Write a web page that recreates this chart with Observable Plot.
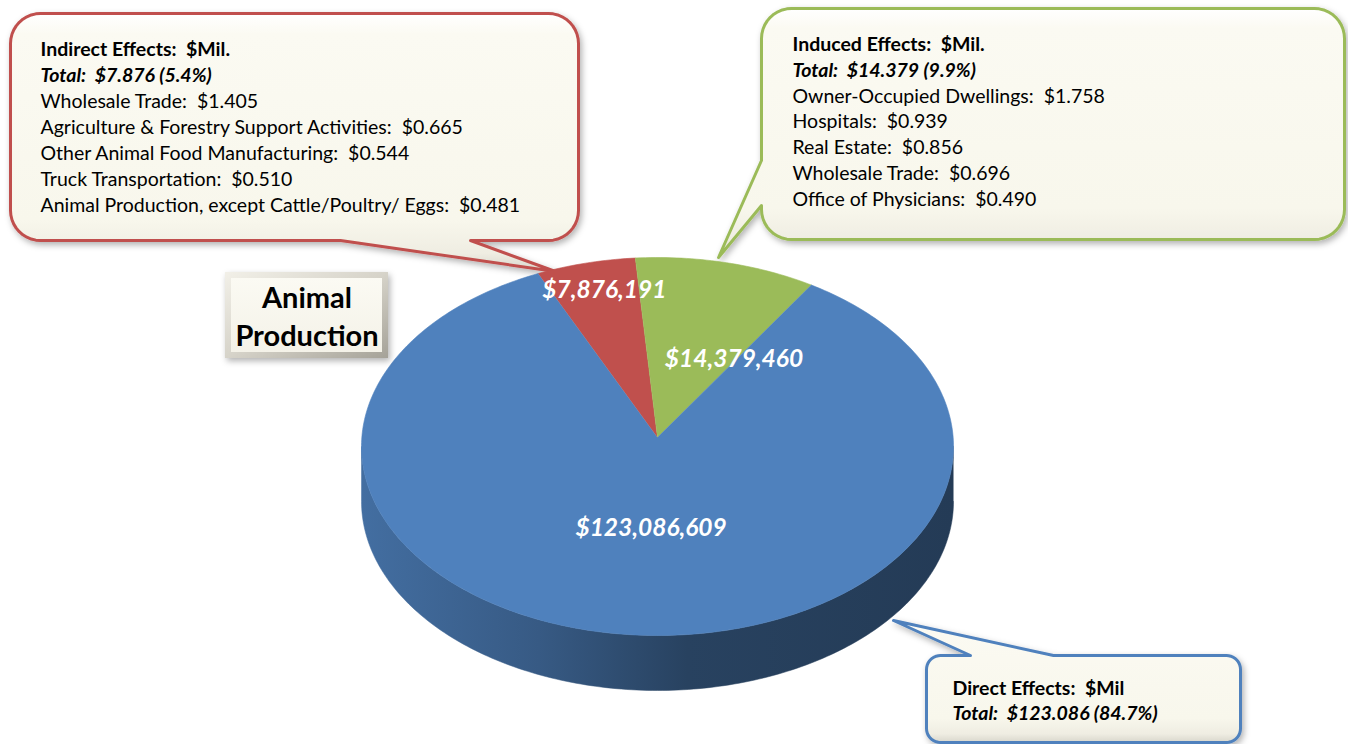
<!DOCTYPE html>
<html>
<head>
<meta charset="utf-8">
<script src="https://cdn.jsdelivr.net/npm/d3@7"></script>
<script src="https://cdn.jsdelivr.net/npm/@observablehq/plot@0.6"></script>
<style>
  html, body { margin: 0; padding: 0; background: #ffffff; }
  #chart { width: 1348px; height: 744px; }
</style>
</head>
<body>
<div id="chart"></div>
<script>
// ---------- DATA ----------
const categories = ["Indirect Effects", "Induced Effects", "Direct Effects"];
const values = [7876191, 14379460, 123086609];
const sliceColors = ["#C0504D", "#9BBB59", "#4F81BD"];
const titleLines = ["Animal", "Production"];

const indirectSectors = [
  "Wholesale Trade",
  "Agriculture & Forestry Support Activities",
  "Other Animal Food Manufacturing",
  "Truck Transportation",
  "Animal Production, except Cattle/Poultry/ Eggs"
];
const indirectValues = [1.405, 0.665, 0.544, 0.510, 0.481];

const inducedSectors = [
  "Owner-Occupied Dwellings",
  "Hospitals",
  "Real Estate",
  "Wholesale Trade",
  "Office of Physicians"
];
const inducedValues = [1.758, 0.939, 0.856, 0.696, 0.490];

const calloutHeaders = ["Indirect Effects:\u00a0 $Mil.", "Induced Effects:\u00a0 $Mil.", "Direct Effects:\u00a0 $Mil"];

// ---------- LAYOUT ----------
const W = 1348, H = 744;
const deg = Math.PI / 180;
const PIE = {cx: 657, cy: 446, rx: 296, ry: 189, depth: 55, apexX: 657, apexY: 437, start: -23.8 * deg};
const labelFactor = [[0.74, 0.85], [1.105, 0.477], [0.33, 0.433]];
const FONT = "Lato, 'Open Sans', sans-serif";
const BODY = 19.5;

const total = d3.sum(values);
const arcs = d3.pie().sort(null).startAngle(PIE.start).endAngle(PIE.start + 2 * Math.PI)(values);
const pt = (a, dy = 0) => [PIE.cx + PIE.rx * Math.sin(a), PIE.cy - PIE.ry * Math.cos(a) + dy];

// wedge polygons (top face)
const wedgeRows = [];
arcs.forEach((a, i) => {
  const n = Math.max(2, Math.ceil((a.endAngle - a.startAngle) / deg));
  wedgeRows.push({cat: categories[i], x: PIE.apexX, y: PIE.apexY});
  for (let k = 0; k <= n; k++) {
    const t = a.startAngle + (a.endAngle - a.startAngle) * k / n;
    const [x, y] = pt(t);
    wedgeRows.push({cat: categories[i], x, y});
  }
});

// visible side (front half: angles 90..270 deg)
const sideSegments = [];
arcs.forEach((a, i) => {
  for (const shift of [0, 2 * Math.PI, -2 * Math.PI]) {
    const lo = Math.max(a.startAngle + shift, 90 * deg);
    const hi = Math.min(a.endAngle + shift, 270 * deg);
    if (hi > lo) {
      const rows = [];
      const n = Math.ceil((hi - lo) / deg);
      for (let k = 0; k <= n; k++) { const t = lo + (hi - lo) * k / n; const [x, y] = pt(t); rows.push({x, y}); }
      for (let k = n; k >= 0; k--) { const t = lo + (hi - lo) * k / n; const [x, y] = pt(t, PIE.depth); rows.push({x, y}); }
      sideSegments.push({i, rows});
    }
  }
});

// slice labels
const sliceLabels = arcs.map((a, i) => {
  const m = (a.startAngle + a.endAngle) / 2;
  return {
    text: "$" + d3.format(",")(values[i]),
    x: PIE.cx + PIE.rx * labelFactor[i][0] * Math.sin(m),
    y: PIE.cy - PIE.ry * labelFactor[i][1] * Math.cos(m)
  };
});

// callout shapes
const callouts = [
  {x0: 10, y0: 13, x1: 578, y1: 240, r: 30, side: "bottom", b0: 340, b1: 470, tip: [555, 271], stroke: "#c0504d"},
  {x0: 761, y0: 8, x1: 1344, y1: 239, r: 30, side: "left", b0: 160, b1: 205, tip: [718, 257], stroke: "#9bbb59"},
  {x0: 926, y0: 655, x1: 1240, y1: 742, r: 14, side: "top", b0: 970, b1: 1053, tip: [893, 620], stroke: "#4f81bd"}
];
function calloutPts(c) {
  const pts = [];
  const arc = (cx, cy, a0, a1) => { for (let i = 0; i <= 10; i++) { const a = a0 + (a1 - a0) * i / 10; pts.push([cx + c.r * Math.cos(a), cy + c.r * Math.sin(a)]); } };
  arc(c.x0 + c.r, c.y0 + c.r, Math.PI, 1.5 * Math.PI);
  if (c.side === "top") pts.push([c.b0, c.y0], c.tip, [c.b1, c.y0]);
  arc(c.x1 - c.r, c.y0 + c.r, 1.5 * Math.PI, 2 * Math.PI);
  arc(c.x1 - c.r, c.y1 - c.r, 0, 0.5 * Math.PI);
  if (c.side === "bottom") pts.push([c.b1, c.y1], c.tip, [c.b0, c.y1]);
  arc(c.x0 + c.r, c.y1 - c.r, 0.5 * Math.PI, Math.PI);
  if (c.side === "left") pts.push([c.x0, c.b1], c.tip, [c.x0, c.b0]);
  pts.push(pts[0]);
  return pts.map(([x, y]) => ({x, y}));
}

// callout text lines
const pct = v => d3.format(".1%")(v / total);
const totalLine = i => `Total:\u00a0 $${(Math.floor(values[i] / 1e3) / 1e3).toFixed(3)} (${pct(values[i])})`;
const textRows = [];
function addBlock(x, y0, lh, header, i, sectors, vals) {
  textRows.push({x, y: y0, text: header, kind: "b"});
  textRows.push({x, y: y0 + lh, text: totalLine(i), kind: "bi"});
  sectors.forEach((s, k) => textRows.push({x, y: y0 + lh * (k + 2), text: `${s}:\u00a0 $${vals[k].toFixed(3)}`, kind: "r"}));
}
addBlock(40, 49, 26, calloutHeaders[0], 0, indirectSectors, indirectValues);
addBlock(792, 44, 25.9, calloutHeaders[1], 1, inducedSectors, inducedValues);
addBlock(952, 688, 25, calloutHeaders[2], 2, [], []);

const titleBox = [{x1: 225, x2: 388, y1: 272, y2: 358}];
const titleInner = [{x1: 231, x2: 382, y1: 278, y2: 352}];
const titleRows = titleLines.map((t, k) => ({text: t, x: 306.5, y: 298 + k * 38}));

// ---------- PLOT ----------
const marks = [];
callouts.forEach(c => {
  marks.push(Plot.line(calloutPts(c), {x: "x", y: "y", fill: "url(#cream)", stroke: c.stroke, strokeWidth: 3, strokeLinejoin: "round", ariaDescription: "callout"}));
});
sideSegments.forEach(s => {
  marks.push(Plot.line(s.rows, {x: "x", y: "y", fill: `url(#side${s.i})`, stroke: `url(#side${s.i})`, strokeWidth: 0.5}));
});
marks.push(Plot.line(wedgeRows, {x: "x", y: "y", z: "cat", fill: "cat", stroke: "cat", strokeWidth: 0.6}));
marks.push(Plot.text(sliceLabels, {x: "x", y: "y", text: "text", fill: "white", fontSize: 24.5, fontWeight: "bold", fontStyle: "italic", fontFamily: FONT}));

marks.push(Plot.rect(titleBox, {x1: "x1", x2: "x2", y1: "y1", y2: "y2", fill: "url(#bevel)", ariaDescription: "titlebox"}));
marks.push(Plot.rect(titleInner, {x1: "x1", x2: "x2", y1: "y1", y2: "y2", fill: "url(#bevelInner)"}));
marks.push(Plot.text(titleRows, {x: "x", y: "y", text: "text", fill: "#000", fontSize: 29, fontWeight: "bold", fontFamily: FONT}));

const styles = {b: {fontWeight: "bold", fontStyle: "normal"}, bi: {fontWeight: "bold", fontStyle: "italic"}, r: {fontWeight: "normal", fontStyle: "normal"}};
for (const k of ["b", "bi", "r"]) {
  marks.push(Plot.text(textRows.filter(d => d.kind === k), {x: "x", y: "y", text: "text", textAnchor: "start", fill: "#000", fontSize: BODY, fontFamily: FONT, ...styles[k]}));
}

const svg = Plot.plot({
  width: W, height: H, margin: 0,
  x: {domain: [0, W], range: [0, W], axis: null},
  y: {domain: [0, H], range: [0, H], axis: null},
  color: {domain: categories, range: sliceColors},
  style: {background: "white", fontFamily: FONT},
  marks
});

// gradients & filters
const defs = d3.select(svg).insert("defs", ":first-child");
const lg = (id, attrs, stops) => {
  const g = defs.append("linearGradient").attr("id", id);
  Object.entries(attrs).forEach(([k, v]) => g.attr(k, v));
  stops.forEach(([o, c]) => g.append("stop").attr("offset", o).attr("stop-color", c));
};
lg("cream", {x1: 0, y1: 0, x2: 0, y2: 1}, [[0, "#ffffff"], [0.08, "#fbfaf2"], [0.8, "#f8f7ec"], [0.93, "#efede2"], [1, "#d8d6cc"]]);
arcs.forEach((a, i) => {
  const c = d3.color(sliceColors[i]);
  lg(`side${i}`, {gradientUnits: "userSpaceOnUse", x1: PIE.cx - PIE.rx, y1: 0, x2: PIE.cx + PIE.rx, y2: 0},
    [[0, c.darker(0.45).formatHex()], [0.3, c.darker(1.0).formatHex()], [0.55, c.darker(1.9).formatHex()], [1, c.darker(2.2).formatHex()]]);
});
lg("bevel", {x1: 0, y1: 0, x2: 1, y2: 1}, [[0, "#f2f0e8"], [0.5, "#d6d3c9"], [1, "#a5a298"]]);
lg("bevelInner", {x1: 0, y1: 0, x2: 0, y2: 1}, [[0, "#fbfaf3"], [1, "#f4f2e8"]]);
const f = defs.append("filter").attr("id", "shadow").attr("x", "-10%").attr("y", "-10%").attr("width", "130%").attr("height", "140%");
f.append("feDropShadow").attr("dx", 2).attr("dy", 3).attr("stdDeviation", 3).attr("flood-color", "#000").attr("flood-opacity", 0.3);
d3.select(svg).selectAll('g[aria-description="callout"], g[aria-description="titlebox"]').attr("filter", "url(#shadow)");

document.getElementById("chart").appendChild(svg);
</script>
</body>
</html>
